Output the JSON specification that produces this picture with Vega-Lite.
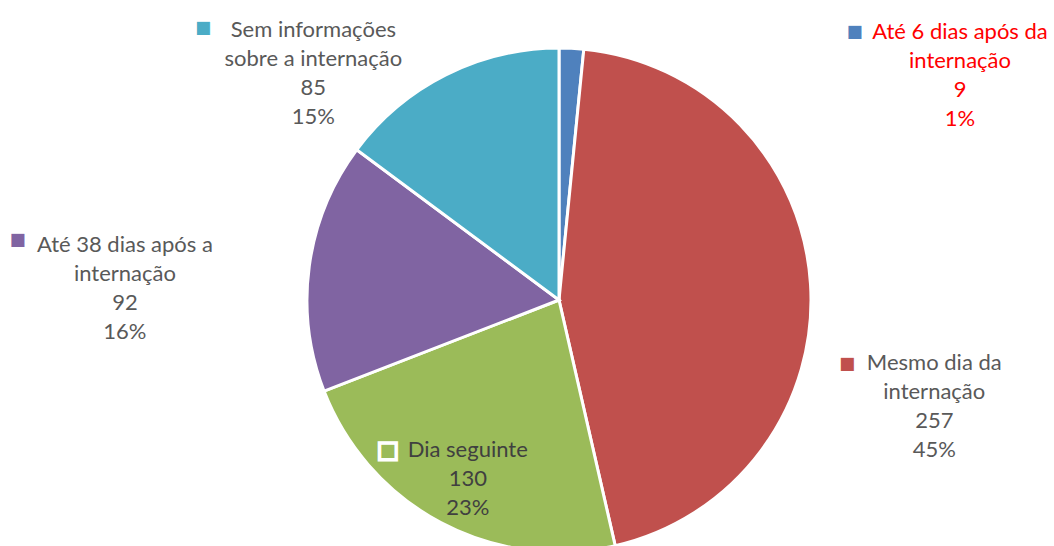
{
  "$schema": "https://vega.github.io/schema/vega-lite/v6.json",
  "width": 990,
  "height": 492,
  "autosize": {"type": "none"},
  "padding": {"left": 64, "top": 54, "right": 0, "bottom": 0},
  "background": "white",
  "config": {"view": {"stroke": null}},
  "data": {
    "values": [
      {"cat": "Até 6 dias após da internação", "order": 1, "value": 9, "label": "Até 6 dias após da\ninternação\n9\n1%"},
      {"cat": "Mesmo dia da internação", "order": 2, "value": 257, "label": "Mesmo dia da\ninternação\n257\n45%"},
      {"cat": "Dia seguinte", "order": 3, "value": 130, "label": "Dia seguinte\n130\n23%"},
      {"cat": "Até 38 dias após a internação", "order": 4, "value": 92, "label": "Até 38 dias após a\ninternação\n92\n16%"},
      {"cat": "Sem informações sobre a internação", "order": 5, "value": 85, "label": "Sem informações\nsobre a internação\n85\n15%"}
    ]
  },
  "encoding": {
    "theta": {"field": "value", "type": "quantitative", "stack": true},
    "order": {"field": "order", "type": "quantitative"}
  },
  "layer": [
    {
      "mark": {"type": "arc", "outerRadius": 252, "stroke": "white", "strokeWidth": 3},
      "encoding": {
        "color": {
          "field": "cat", "type": "nominal", "legend": null,
          "scale": {
            "domain": ["Até 6 dias após da internação", "Mesmo dia da internação", "Dia seguinte", "Até 38 dias após a internação", "Sem informações sobre a internação"],
            "range": ["#4F81BD", "#C0504D", "#9BBB59", "#8064A2", "#4BACC6"]
          }
        }
      }
    },
    {
      "mark": {"type": "text", "radius": 243.5, "dx": 389, "dy": -24.5, "align": "center", "baseline": "middle", "lineBreak": "\n", "lineHeight": 29, "font": "Lato", "fontSize": 22, "fill": "#FF0000"},
      "encoding": {"detail": {"field": "cat"}, "text": {"condition": {"test": "datum.order === 1", "field": "label", "type": "nominal"}, "value": ""}}
    },
    {
      "mark": {"type": "text", "radius": 368, "dx": 8, "dy": 86.5, "align": "center", "baseline": "middle", "lineBreak": "\n", "lineHeight": 29, "font": "Lato", "fontSize": 22, "fill": "#595959"},
      "encoding": {"detail": {"field": "cat"}, "text": {"condition": {"test": "datum.order === 2", "field": "label", "type": "nominal"}, "value": ""}}
    },
    {
      "mark": {"type": "text", "radius": 201, "dx": 3, "dy": -27.5, "align": "center", "baseline": "middle", "lineBreak": "\n", "lineHeight": 29, "font": "Lato", "fontSize": 22, "fill": "#404040"},
      "encoding": {"detail": {"field": "cat"}, "text": {"condition": {"test": "datum.order === 3", "field": "label", "type": "nominal"}, "value": ""}}
    },
    {
      "mark": {"type": "text", "radius": 432, "dx": -6, "dy": 2.5, "align": "center", "baseline": "middle", "lineBreak": "\n", "lineHeight": 29, "font": "Lato", "fontSize": 22, "fill": "#595959"},
      "encoding": {"detail": {"field": "cat"}, "text": {"condition": {"test": "datum.order === 4", "field": "label", "type": "nominal"}, "value": ""}}
    },
    {
      "mark": {"type": "text", "radius": 313, "dx": -105, "dy": 9.5, "align": "center", "baseline": "middle", "lineBreak": "\n", "lineHeight": 29, "font": "Lato", "fontSize": 22, "fill": "#595959"},
      "encoding": {"detail": {"field": "cat"}, "text": {"condition": {"test": "datum.order === 5", "field": "label", "type": "nominal"}, "value": ""}}
    },
    {
      "mark": {"type": "text", "radius": 243.5, "dx": 284, "dy": -26, "align": "center", "baseline": "middle", "font": "DejaVu Sans", "fontSize": 22, "stroke": "white", "strokeWidth": 3.5},
      "encoding": {"color": {"field": "cat", "type": "nominal"}, "text": {"condition": {"test": "datum.order === 1", "value": "■"}, "value": ""}}
    },
    {
      "mark": {"type": "text", "radius": 368, "dx": -79, "dy": 86, "align": "center", "baseline": "middle", "font": "DejaVu Sans", "fontSize": 22, "stroke": "white", "strokeWidth": 3.5},
      "encoding": {"color": {"field": "cat", "type": "nominal"}, "text": {"condition": {"test": "datum.order === 2", "value": "■"}, "value": ""}}
    },
    {
      "mark": {"type": "text", "radius": 201, "dx": -77, "dy": -27.5, "align": "center", "baseline": "middle", "font": "DejaVu Sans", "fontSize": 22, "stroke": "white", "strokeWidth": 3.5},
      "encoding": {"color": {"field": "cat", "type": "nominal"}, "text": {"condition": {"test": "datum.order === 3", "value": "■"}, "value": ""}}
    },
    {
      "mark": {"type": "text", "radius": 432, "dx": -113, "dy": -3, "align": "center", "baseline": "middle", "font": "DejaVu Sans", "fontSize": 22, "stroke": "white", "strokeWidth": 3.5},
      "encoding": {"color": {"field": "cat", "type": "nominal"}, "text": {"condition": {"test": "datum.order === 4", "value": "■"}, "value": ""}}
    },
    {
      "mark": {"type": "text", "radius": 313, "dx": -215, "dy": 6.5, "align": "center", "baseline": "middle", "font": "DejaVu Sans", "fontSize": 22, "stroke": "white", "strokeWidth": 3.5},
      "encoding": {"color": {"field": "cat", "type": "nominal"}, "text": {"condition": {"test": "datum.order === 5", "value": "■"}, "value": ""}}
    }
  ]
}
